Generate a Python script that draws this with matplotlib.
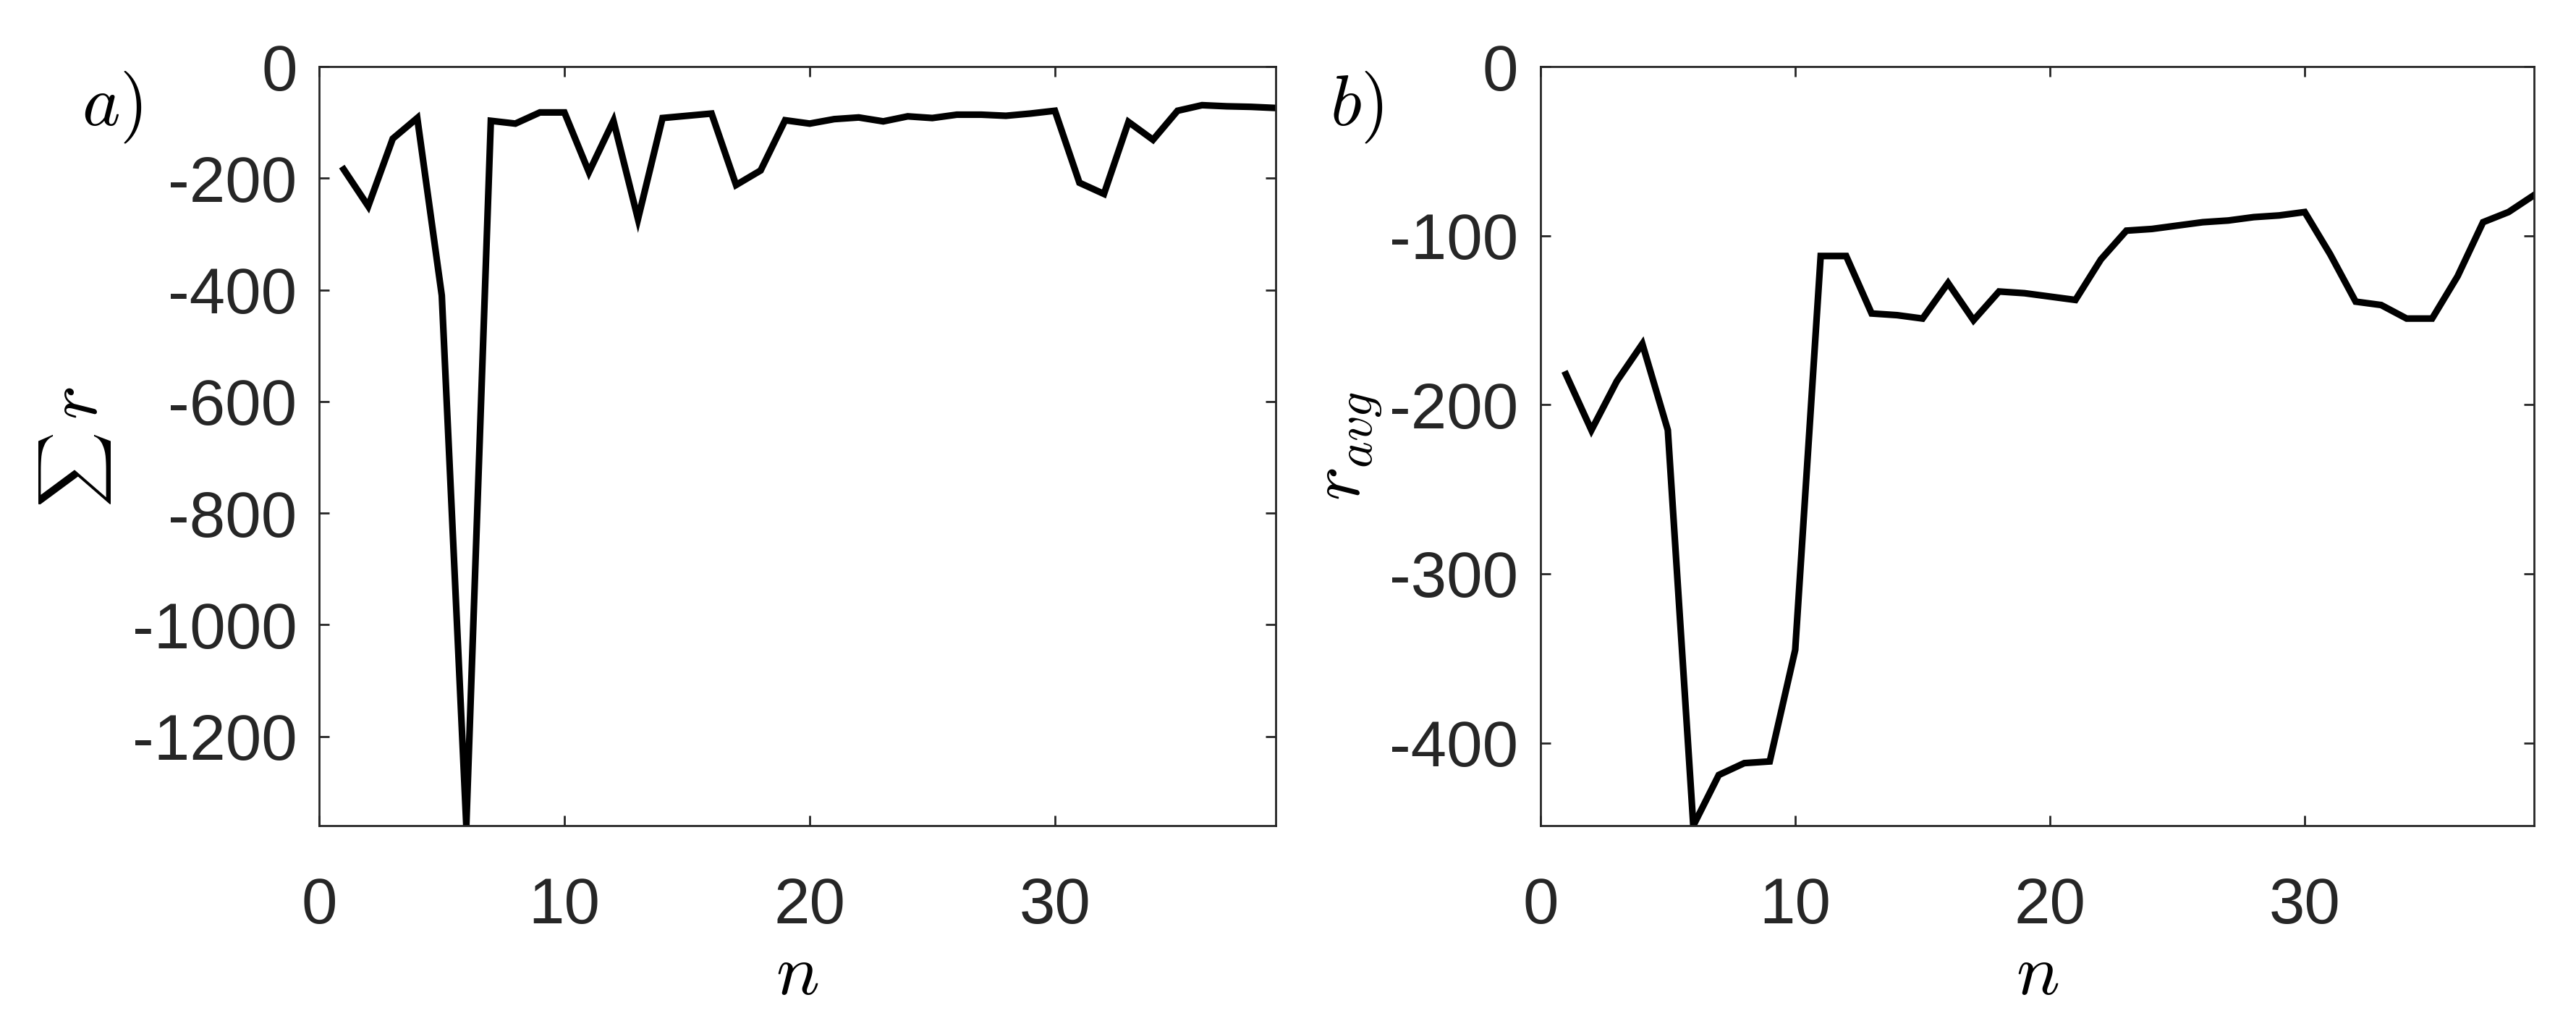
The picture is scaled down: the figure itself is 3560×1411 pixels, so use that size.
import matplotlib
matplotlib.use("Agg")
import matplotlib.pyplot as plt
import numpy as np

plt.rcParams['font.family'] = ['Liberation Sans', 'DejaVu Sans']
plt.rcParams['mathtext.fontset'] = 'cm'
plt.rcParams['axes.unicode_minus'] = False

GREY = '#262626'

n = np.arange(1, 40)

# panel a) summed reward per episode
r_sum = [-184, -250, -129, -92, -410, -1360, -97, -102, -82, -82,
         -189, -97, -273, -92, -88, -84, -212, -186, -96, -102,
         -94, -91, -98, -89, -92, -86, -86, -88, -84, -79,
         -208, -228, -99, -131, -79, -69, -71, -72, -74]

# panel b) average reward
r_avg = [-182, -215, -186, -164, -215, -449, -419, -412, -411, -345,
         -112, -112, -146, -147, -149, -128, -150, -133, -134, -136,
         -138, -114, -97, -96, -94, -92, -91, -89, -88, -86,
         -111, -139, -141, -149, -149, -124, -92, -86, -76]

xticks = [0, 10, 20, 30]
yticks_a = [0, -200, -400, -600, -800, -1000, -1200]
yticks_b = [0, -100, -200, -300, -400]

fig = plt.figure(figsize=(17.8, 7.055), dpi=200)
axa = fig.add_axes([0.1239, 0.1913, 0.3713, 0.7434])
axb = fig.add_axes([0.5980, 0.1913, 0.3857, 0.7434])


def style(ax):
    ax.tick_params(direction='in', length=5, width=1.0, color=GREY,
                   labelcolor=GREY, labelsize=32, top=True, right=True)
    ax.tick_params(axis='y', pad=11)
    ax.tick_params(axis='x', pad=25)
    for s in ax.spines.values():
        s.set_color(GREY)
        s.set_linewidth(1.0)


axa.plot(n, r_sum, color='k', lw=3.3, solid_joinstyle='miter')
axa.set_xlim(0, 39)
axa.set_ylim(-1360, 0)
axa.set_xticks(xticks)
axa.set_yticks(yticks_a)
style(axa)
axa.set_xlabel(r'$n$', fontsize=36, va='center')
axa.xaxis.set_label_coords(0.5, -0.197)
# sum sign in text size, r at normal label size
axa.set_ylabel(r'$\sum$', fontsize=26, va='center')
axa.yaxis.set_label_coords(-0.255, 0.468)
axa.text(-0.252, 0.557, r'$r$', fontsize=36, rotation=90,
         ha='center', va='center', transform=axa.transAxes)

axb.plot(n, r_avg, color='k', lw=3.3, solid_joinstyle='miter')
axb.set_xlim(0, 39)
axb.set_ylim(-449, 0)
axb.set_xticks(xticks)
axb.set_yticks(yticks_b)
style(axb)
axb.set_xlabel(r'$n$', fontsize=36, va='center')
axb.xaxis.set_label_coords(0.5, -0.197)
axb.set_ylabel(r'$r_{avg}$', fontsize=36, va='center')
axb.yaxis.set_label_coords(-0.192, 0.5)

fig.text(0.0435, 0.895, r'$a)$', fontsize=36, ha='center', va='center')
fig.text(0.5267, 0.895, r'$b)$', fontsize=36, ha='center', va='center')

fig.savefig('out.png', dpi=200, facecolor='white')
